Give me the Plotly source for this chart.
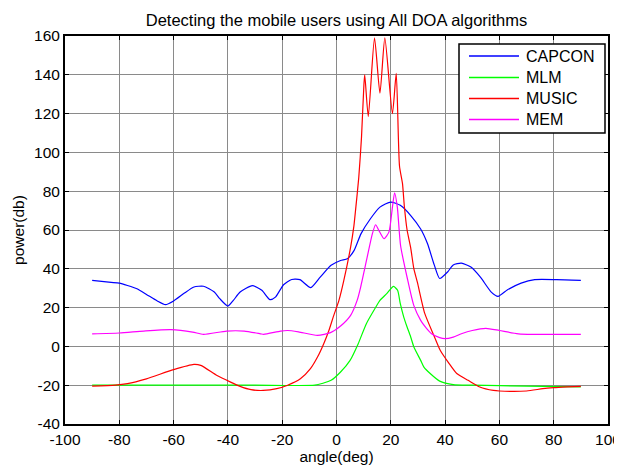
import plotly.graph_objects as go

# ---- data ----
capcon_x = [-90, -83, -80, -77, -73.5, -70, -66, -63, -60, -56, -52.5, -49, -45, -43, -40, -38, -35.5,
            -31, -27.5, -24.5, -22.5, -19.5, -16.5, -13.5, -9.5, -6, -2, 1.5, 4, 6.5, 9, 12.5, 16, 20,
            23.5, 27.5, 31, 33.5, 36, 38, 41, 43, 46, 49.5, 53, 57, 59.5, 63, 68, 73, 81, 90]
capcon_y = [34, 33, 32.6, 31.4, 29.7, 26.8, 23.4, 21.5, 23.4, 27.5, 30.6, 31, 28, 24.6, 20.8, 23.7, 28,
            31.3, 28.9, 24.1, 25.4, 31.8, 34.5, 34.4, 30.3, 35.7, 41.8, 44.3, 45.2, 49.5, 58, 65.8, 71.8, 74.4,
            72.7, 67.2, 60.5, 53, 42, 35, 38.5, 42, 42.9, 40.9, 35.7, 28, 25.8, 29.2, 32.6, 34.4, 34.4, 34]

mlm_x = [-90, -60, -30, -8, -5, -2, 1.5, 5, 8, 11, 14.5, 16, 18.5, 21, 22.5, 23.5, 24.8, 26, 27.3, 28.5,
         31, 32.2, 34.5, 38, 43, 50, 70, 90]
mlm_y = [-20, -20, -20, -20, -19, -17.5, -13.2, -7.2, 1.4, 11.7, 20.3, 23.7, 27.2, 30.9, 28.9, 22, 15, 10,
         5, -0.3, -7.2, -10.7, -14, -17.9, -19.7, -20, -20.5, -20.9]

music_x = [-90, -81.5, -77, -70, -60, -52.5, -50, -44, -39, -35.5, -31.5, -27, -22, -18, -13.3, -9.6, -7,
           -4.7, -2.8, -1, 0.9, 2.7, 5.2, 6.4, 7, 8.2, 9.2, 10.1, 10.4, 11.7, 14, 16, 17.8, 20.6, 22, 23.2,
           24.3, 25, 26, 27.3, 28.5, 29.8, 32.5, 35.9, 38.2, 41.3, 44.3, 48.5, 52.8, 57.8, 60, 70, 76, 80, 85, 90]
music_y = [-20.5, -20, -19.2, -16.7, -12, -9.3, -9.8, -15, -18.4, -20.6, -22.3, -22.7, -21.8, -20, -16.7,
           -11.5, -5.5, 1.4, 8.2, 16, 23.7, 34, 51.2, 62, 70, 87, 107.6, 135, 140, 118.5, 159, 130.5, 159,
           120, 140.7, 93, 84, 72, 60, 51, 40, 33, 17, 5.5, -2, -8.5, -14, -17.5, -20.9, -22.7, -23, -23,
           -21.8, -21.3, -20.9, -20.6]

mem_x = [-90, -80, -71, -61, -53, -49, -40.5, -34, -28, -26.8, -20.6, -18, -14, -7, -2.2, 1.5, 5.2, 7.6,
         8.9, 11.3, 13.2, 14.4, 15.6, 17.5, 19.3, 20.6, 21.4, 22.4, 23.6, 26.1, 28.5, 31, 33, 35, 38, 40,
         43, 46, 50, 55, 60, 67, 90]
mem_y = [6.5, 6.9, 7.9, 8.6, 7.4, 6.2, 7.9, 7.9, 6.5, 6.2, 7.9, 8.2, 7.5, 5.7, 7.1, 10.5, 16, 23.7, 30.6,
         46, 58, 62.7, 59.8, 55.5, 58.9, 71.8, 79.2, 71.8, 52, 35, 21, 13.4, 9.5, 6.5, 4.5, 4, 4.8, 6.5,
         8.2, 9.3, 8.2, 6.5, 6.2]

x_ticks = [-100, -80, -60, -40, -20, 0, 20, 40, 60, 80, 100]
y_ticks = [-40, -20, 0, 20, 40, 60, 80, 100, 120, 140, 160]

series_names = ["CAPCON", "MLM", "MUSIC", "MEM"]
series_x = [capcon_x, mlm_x, music_x, mem_x]
series_y = [capcon_y, mlm_y, music_y, mem_y]
series_colors = ["#0000ff", "#00ff00", "#ff0000", "#ff00ff"]

FONT = "Liberation Sans, Arial, sans-serif"

# The page body has an 8px margin, so the figure is drawn 8px right/down.
OFF = 8
W, H = 622 - OFF, 466 - OFF
# plot area in screen pixels: left 65, right 608, top 36, bottom 424
L = 65 - OFF
T = 36 - OFF
R = W - (608 - OFF)
B = H - (424 - OFF)
PW, PH = W - L - R, H - T - B


def px_x(p):  # screen px -> paper x
    return (p - OFF - L) / PW


def px_y(p):  # screen px -> paper y
    return (H - B - (p - OFF)) / PH


fig = go.Figure()
for name, xs, ys, col in zip(series_names, series_x, series_y, series_colors):
    fig.add_trace(go.Scatter(x=xs, y=ys, mode="lines", name=name, showlegend=False,
                             line=dict(color=col, width=1.2, shape="spline", smoothing=0.6)))

axis_common = dict(
    showgrid=True, gridcolor="#8a8a8a", gridwidth=1,
    showline=True, linecolor="black", linewidth=2, mirror="ticks",
    ticks="inside", ticklen=4, tickcolor="black", tickwidth=1,
    zeroline=False, automargin=False,
    tickfont=dict(family=FONT, size=15.5, color="black"),
)

fig.update_xaxes(range=[-100, 100], tickvals=x_ticks, ticktext=[str(v) for v in x_ticks],
                 title=dict(text="angle(deg)", font=dict(family=FONT, size=15.5, color="black"), standoff=2),
                 **axis_common)
fig.update_yaxes(range=[-40, 160], tickvals=y_ticks, ticktext=[str(v) for v in y_ticks],
                 title=dict(text="power(db)", font=dict(family=FONT, size=15.5, color="black"), standoff=6),
                 **axis_common)

# legend drawn as a boxed key (box, sample lines, labels)
shapes = [dict(type="rect", xref="paper", yref="paper",
               x0=px_x(459), x1=px_x(605), y0=px_y(133), y1=px_y(44),
               line=dict(color="black", width=1.5), fillcolor="white", layer="above")]
annotations = []
row_y = [56, 77.5, 98.5, 119.5]
for name, col, ry in zip(series_names, series_colors, row_y):
    shapes.append(dict(type="line", xref="paper", yref="paper",
                       x0=px_x(469), x1=px_x(519), y0=px_y(ry), y1=px_y(ry),
                       line=dict(color=col, width=1.5), layer="above"))
    annotations.append(dict(text=name, xref="paper", yref="paper", x=px_x(524), y=px_y(ry),
                            xanchor="left", yanchor="middle", showarrow=False,
                            font=dict(family=FONT, size=16, color="black")))

fig.update_layout(
    width=W, height=H,
    margin=dict(l=L, r=R, t=T, b=B),
    paper_bgcolor="white", plot_bgcolor="white",
    title=dict(text="Detecting the mobile users using All DOA algorithms",
               font=dict(family=FONT, size=16.5, color="black"),
               x=(65 + 608) / 2 / 622 * 622 / W - OFF / W, xanchor="center",
               y=1 - (20 - OFF) / H, yanchor="middle"),
    shapes=shapes, annotations=annotations,
    showlegend=False,
)

fig.write_html("out.html")
